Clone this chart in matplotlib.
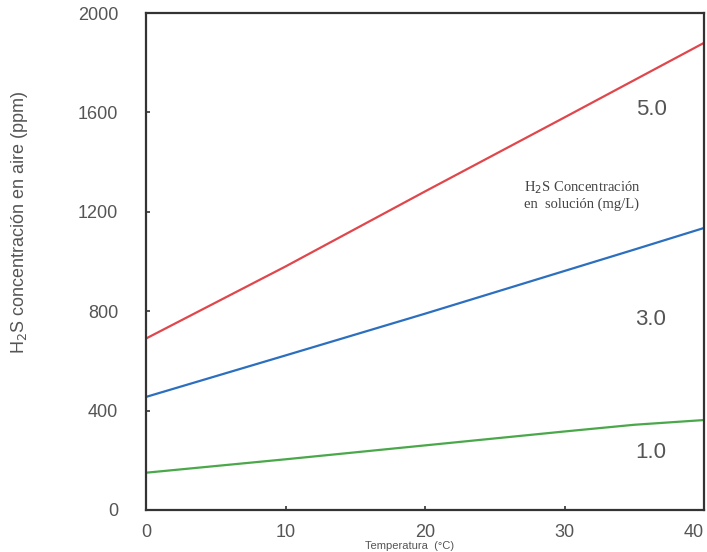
import numpy as np
import matplotlib
matplotlib.use('Agg')
import matplotlib.pyplot as plt

# Temperatura (°C) y concentración de H2S en aire (ppm) para cada concentración en solución
temp = [0, 10, 20, 30, 35, 40]
h2s_5 = [690, 980, 1282, 1580, 1730, 1880]
h2s_3 = [455, 622, 790, 962, 1048, 1135]
h2s_1 = [150, 204, 260, 316, 343, 362]

series = [(h2s_5, '#e0474c', '5.0', 1610),
          (h2s_3, '#2c6fbf', '3.0', 765),
          (h2s_1, '#4aa84a', '1.0', 233)]

xticks = [0, 10, 20, 30, 40]
yticks = [0, 400, 800, 1200, 1600, 2000]

plt.rcParams['font.family'] = ['Liberation Sans', 'DejaVu Sans']

fig = plt.figure(figsize=(7.07, 5.52), dpi=100)
ax = fig.add_axes([0.2065, 0.0761, 0.7893, 0.9003])

for vals, col, lab, ylab in series:
    ax.plot(temp, vals, color=col, linewidth=1.6)
    ax.text(36.2, ylab, lab, fontsize=16, color='#555555', ha='center', va='center')

ax.text(27.1, 1268, 'H$_2$S Concentración\nen  solución (mg/L)', fontsize=10.5,
        family='Liberation Serif', color='#444444', ha='left', va='center', linespacing=1.15)

ax.set_xlim(0, 40)
ax.set_ylim(0, 2000)
ax.set_xticks(xticks)
ax.set_yticks(yticks)
ax.tick_params(direction='in', length=3, width=1.2, colors='#333333', labelcolor='#555555',
               labelsize=13)
ax.tick_params(axis='y', pad=20)
ax.tick_params(axis='x', pad=10)
ax.get_xticklabels()[-1].set_horizontalalignment('right')
for s in ax.spines.values():
    s.set_linewidth(1.6)
    s.set_color('#333333')

ax.set_ylabel('H$_2$S concentración en aire (ppm)', fontsize=13, color='#555555')
ax.yaxis.set_label_coords(-0.208, 0.58)
fig.text(0.58, 0.002, 'Temperatura  (°C)', fontsize=8, color='#555555', ha='center', va='bottom')

fig.savefig('out.png', dpi=100)
